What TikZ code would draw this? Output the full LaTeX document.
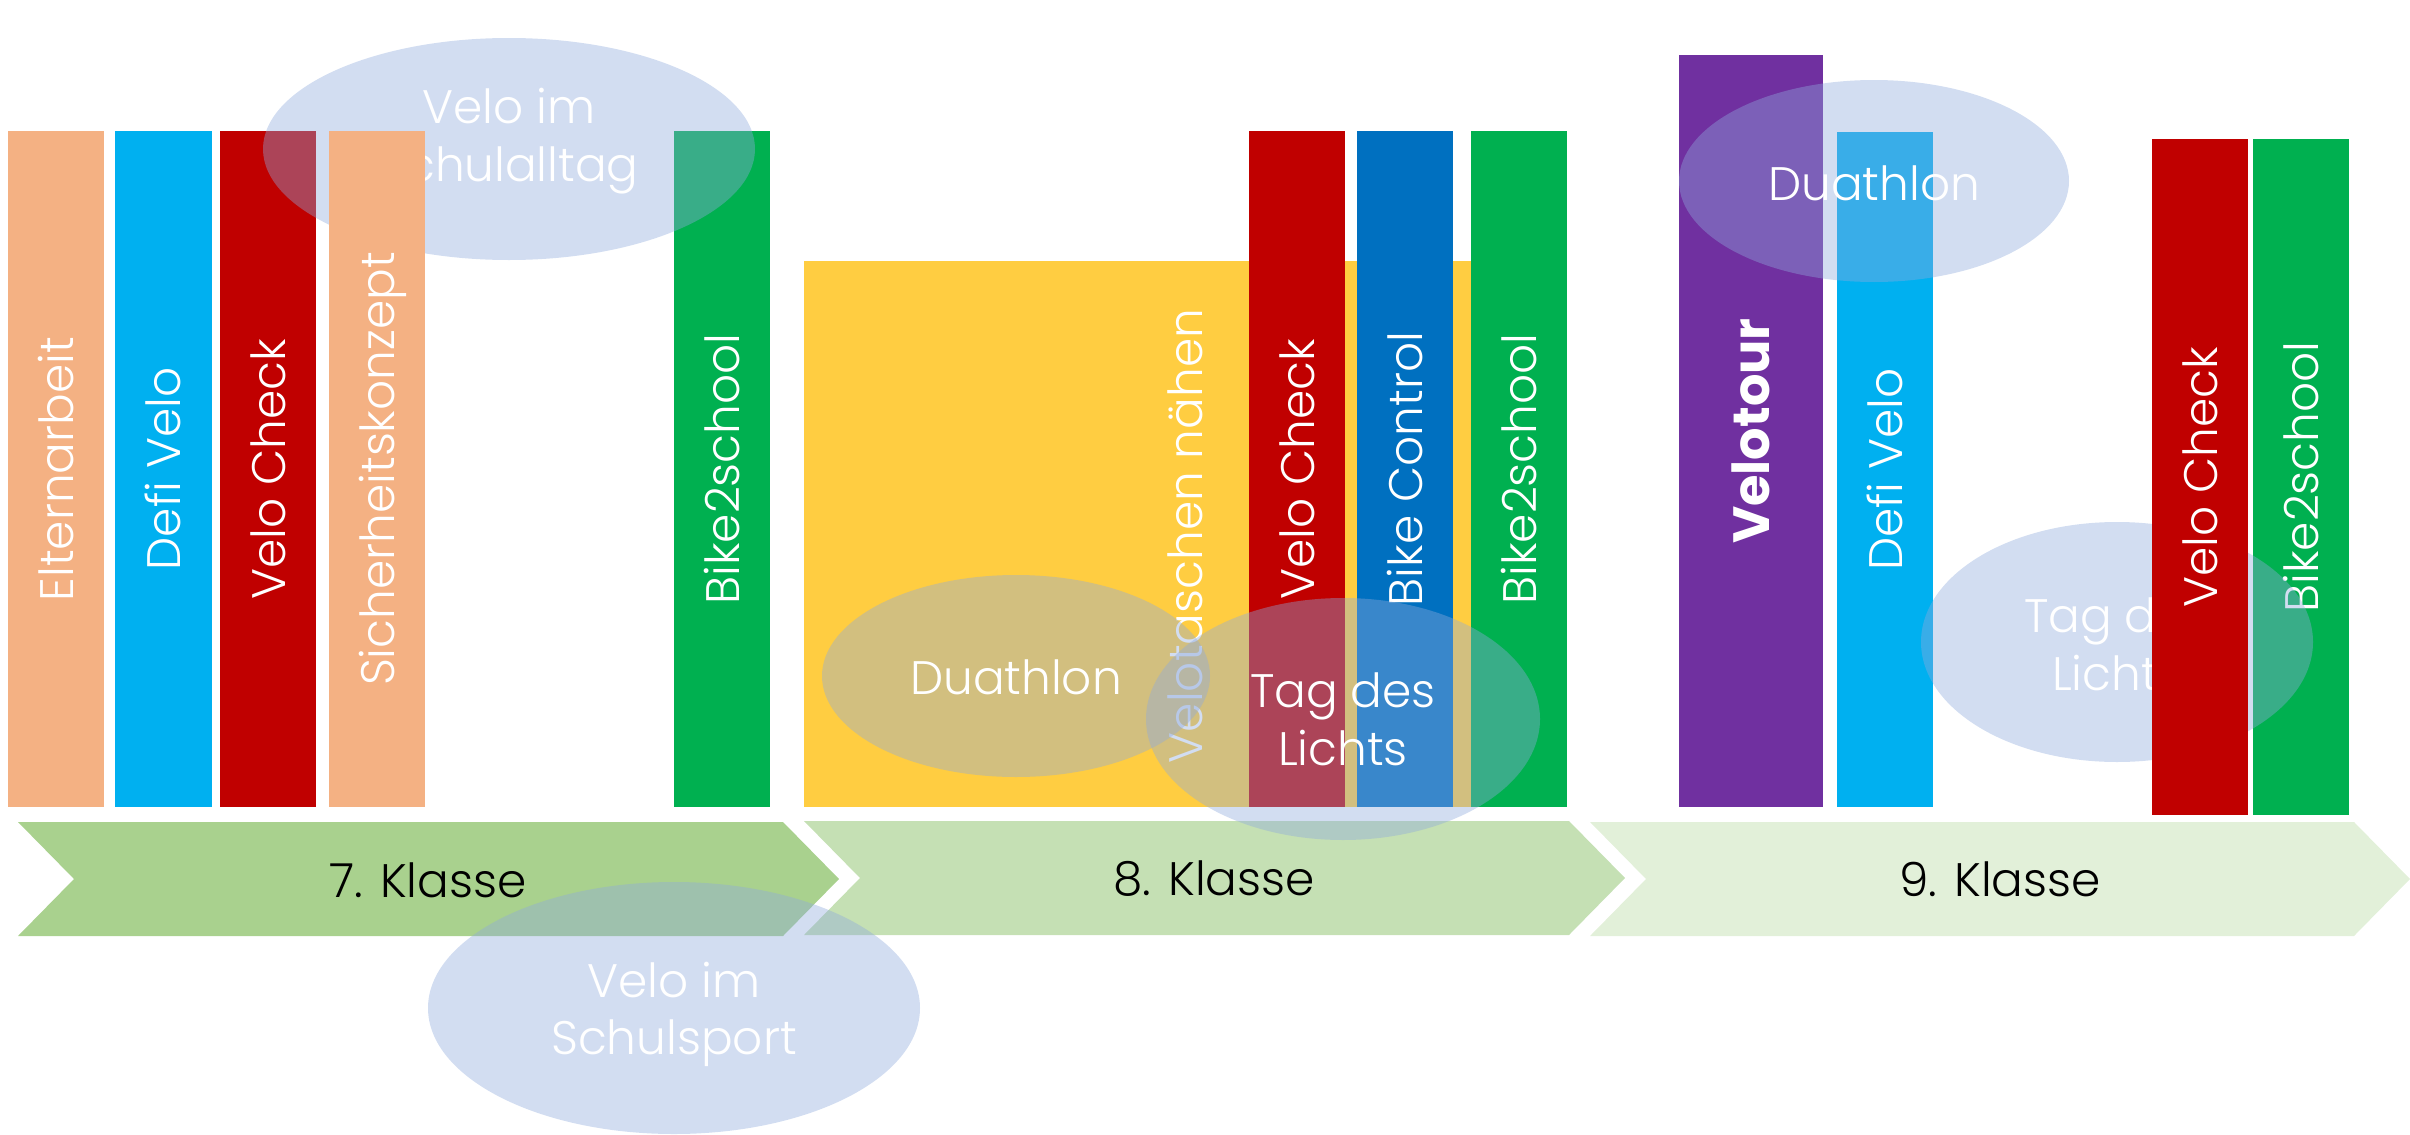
\documentclass[tikz,border=0pt]{standalone}
\usepackage{fontspec}
\setmainfont{Poppins}[UprightFont=* Light, BoldFont=* Bold]
\usetikzlibrary{shapes.geometric}
\definecolor{salmon}{HTML}{F4B183}
\definecolor{skyb}{HTML}{00B0F0}
\definecolor{darkred}{HTML}{C00000}
\definecolor{grn}{HTML}{00B050}
\definecolor{yel}{HTML}{FFCD41}
\definecolor{blu}{HTML}{0070C0}
\definecolor{purp}{HTML}{7030A0}
\definecolor{ellc}{HTML}{8FAADC}
\definecolor{chA}{HTML}{A9D18E}
\definecolor{chB}{HTML}{C5E0B4}
\definecolor{chC}{HTML}{E2F0D9}
\tikzset{
  bigfont/.style={font=\fontsize{47}{56}\selectfont},
  bar/.style={bigfont, rotate=90, minimum height=96pt, inner sep=0pt, draw=none,
    text=white, text height=34pt, text depth=0pt},
  blob/.style={ellipse, fill=ellc, fill opacity=0.4, draw=none, inner sep=0pt},
  etext/.style={bigfont, text=white, inner sep=0pt, text height=34pt, text depth=0pt},
  ktext/.style={bigfont, text=black, inner sep=0pt, text height=34pt, text depth=0pt},
}
\begin{document}
\begin{tikzpicture}[x=1pt,y=-1pt]
\useasboundingbox (0,0) rectangle (2410,1135);
% chevrons
\fill[chA] (18,822) -- (783,822) -- (839,879) -- (783,936) -- (18,936) -- (74,879) -- cycle;
\fill[chB] (804,821) -- (1569,821) -- (1625,878) -- (1569,935) -- (804,935) -- (860,878) -- cycle;
\fill[chC] (1590,822) -- (2354,822) -- (2410,879) -- (2354,936) -- (1590,936) -- (1646,879) -- cycle;
\node[ktext] (k7) at (428,880) {7. Klasse};
\node[ktext] (k8) at (1214,878) {8. Klasse};
\node[ktext] (k9) at (2000,879) {9. Klasse};
% 7. Klasse
\node[bar, fill=salmon, minimum width=676pt] (a1) at (56,469) {Elternarbeit};
\node[bar, fill=skyb, minimum width=676pt, minimum height=97pt] (a2) at (163.5,469) {Defi Velo};
\node[bar, fill=darkred, minimum width=676pt] (a3) at (268,469) {Velo Check};
\node[bar, fill=grn, minimum width=676pt] (a5) at (722,469) {Bike2school};
\node[blob, minimum width=492pt, minimum height=222pt] (e1) at (509,149) {};
\node[etext] (e1a) at (509,106) {Velo im};
\node[etext] (e1b) at (509,164) {Schulalltag};
\node[bar, fill=salmon, minimum width=676pt] (a4) at (377,469) {Sicherheitskonzept};
% 8. Klasse
\node[fill=yel, minimum width=667pt, minimum height=546pt, inner sep=0pt] (y1) at (1137.5,534) {};
\node[etext, rotate=90] (y1t) at (1185,536) {Velotaschen nähen};
\node[blob, minimum width=388pt, minimum height=202pt] (e2) at (1016,676) {};
\node[etext] (e2a) at (1016,677) {Duathlon};
\node[bar, fill=darkred, minimum width=676pt] (b1) at (1297,469) {Velo Check};
\node[bar, fill=blu, minimum width=676pt] (b2) at (1405,469) {Bike Control};
\node[bar, fill=grn, minimum width=676pt] (b3) at (1519,469) {Bike2school};
\node[blob, minimum width=394pt, minimum height=242pt] (e3) at (1343,719) {};
\node[etext] (e3a) at (1343,690) {Tag des};
\node[etext] (e3b) at (1343,748) {Lichts};
% 9. Klasse
\node[bar, fill=purp, minimum width=752pt, minimum height=144pt, font=\fontsize{51}{60}\selectfont\bfseries, text height=37pt] (c1) at (1751,431) {Velotour};
\node[bar, fill=skyb, minimum width=675pt] (c2) at (1885,469.5) {Defi Velo};
\node[blob, minimum width=390pt, minimum height=202pt] (e5) at (1874,181) {};
\node[etext] (e5a) at (1874,183) {Duathlon};
\node[bar, fill=grn, minimum width=676pt] (c4) at (2301,477) {Bike2school};
\node[blob, minimum width=392pt, minimum height=240pt] (e6) at (2117,642) {};
\node[etext] (e6a) at (2117,615) {Tag des};
\node[etext] (e6b) at (2117,673) {Lichts};
\node[bar, fill=darkred, minimum width=676pt] (c3) at (2200,477) {Velo Check};
% Schulsport
\node[blob, minimum width=492pt, minimum height=252pt] (e4) at (674,1008) {};
\node[etext] (e4a) at (674,980) {Velo im};
\node[etext] (e4b) at (674,1037) {Schulsport};
\end{tikzpicture}
\end{document}
